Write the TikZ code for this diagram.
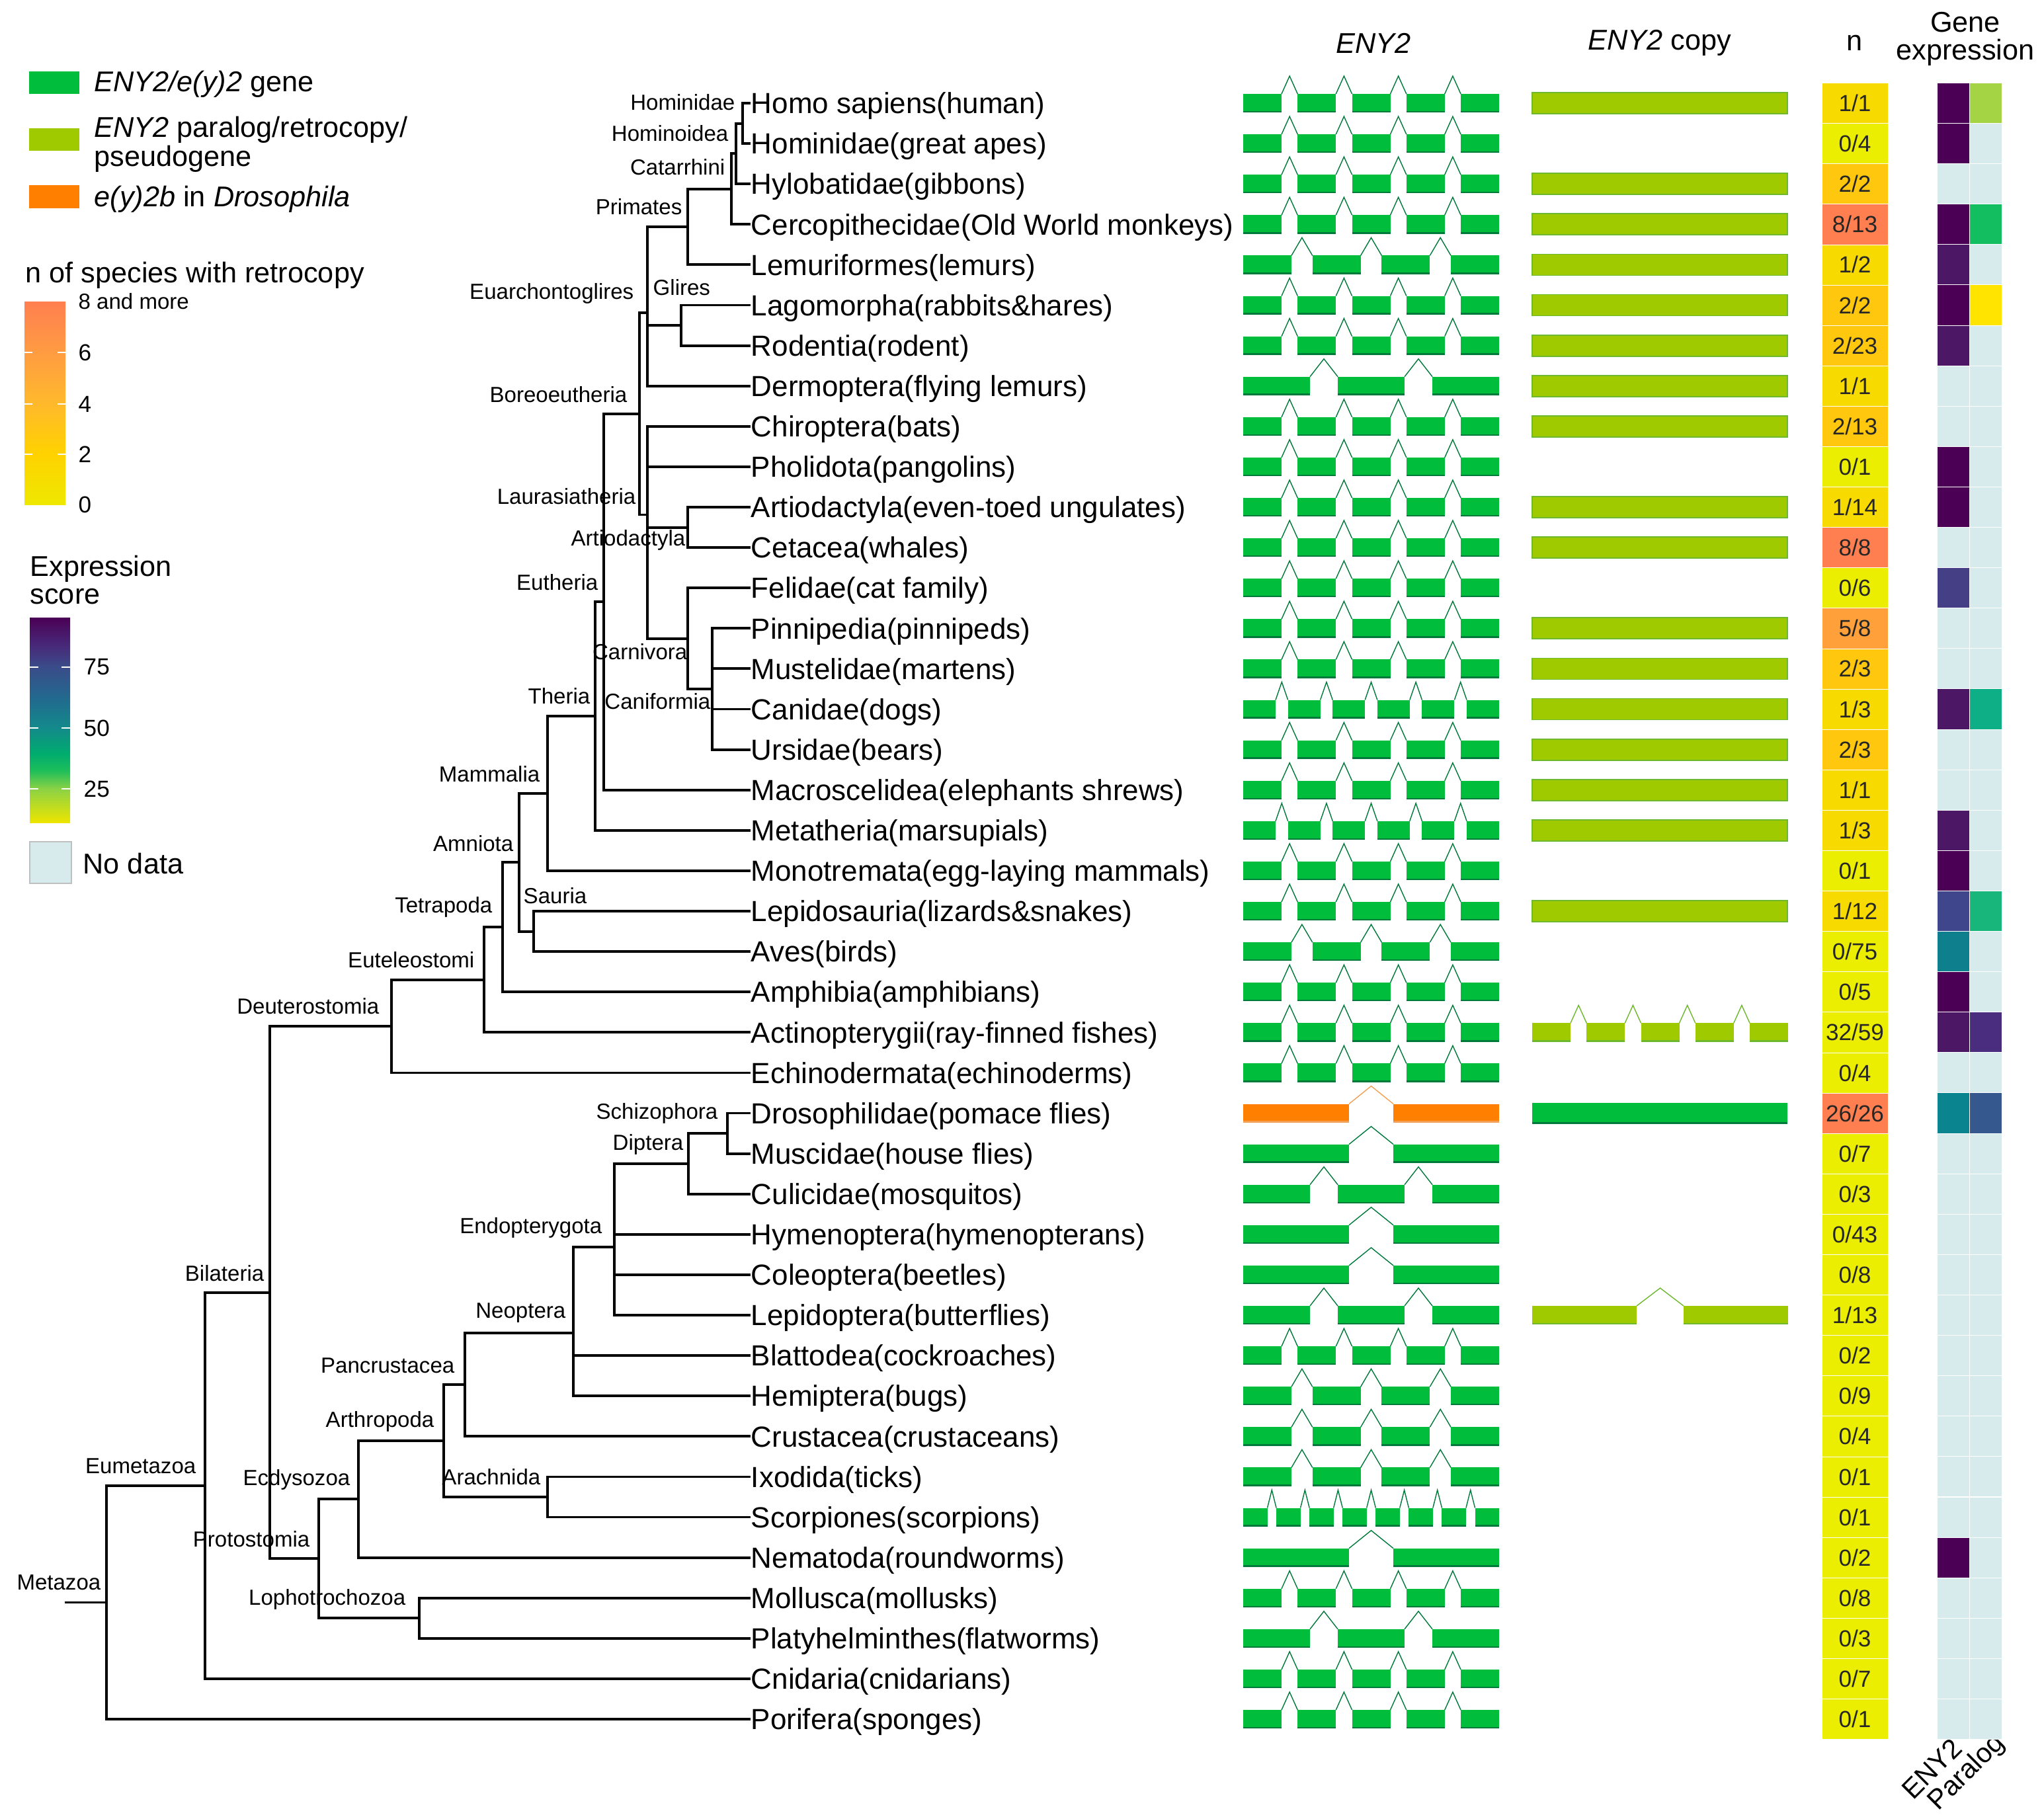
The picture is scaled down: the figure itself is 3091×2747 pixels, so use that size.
\documentclass[tikz,border=0pt]{standalone}
\usepackage{fontspec}
\setmainfont{Liberation Sans}

\definecolor{enygreen}{HTML}{00BE3C}
\definecolor{enyedge}{HTML}{007A3A}
\definecolor{paracol}{HTML}{A0CA00}
\definecolor{paraedge}{HTML}{6DB82E}
\definecolor{orangecol}{HTML}{FF8000}
\definecolor{orangeedge}{HTML}{F2A055}
\definecolor{ny0}{HTML}{EBEE00}
\definecolor{ny1}{HTML}{F7DA00}
\definecolor{ny2}{HTML}{FFC70E}
\definecolor{ny5}{HTML}{FFA03A}
\definecolor{ny8}{HTML}{FF7F50}
\definecolor{nyb0}{HTML}{EEE800}
\definecolor{nyb2}{HTML}{FFD200}
\definecolor{nyb4}{HTML}{FFB92C}
\definecolor{nyb6}{HTML}{FF9C42}
\definecolor{nd}{HTML}{D8EBEC}
\definecolor{v1}{HTML}{4B0055}
\definecolor{v2}{HTML}{4C1866}
\definecolor{bp}{HTML}{453F85}
\definecolor{bp2}{HTML}{3F468C}
\definecolor{tl}{HTML}{0E7F8D}
\definecolor{tl2}{HTML}{0A8590}
\definecolor{pu}{HTML}{4A2D7E}
\definecolor{bl}{HTML}{35588F}
\definecolor{pa}{HTML}{A4D443}
\definecolor{g1}{HTML}{12BE60}
\definecolor{g2}{HTML}{19B67B}
\definecolor{tg}{HTML}{0EAE86}
\definecolor{yy}{HTML}{FFE400}
\definecolor{ex0}{HTML}{EDE500}
\definecolor{ex1}{HTML}{8CD245}
\definecolor{ex2}{HTML}{1DBE5A}
\definecolor{ex3}{HTML}{00AC6E}
\definecolor{ex4}{HTML}{138A8B}
\definecolor{ex5}{HTML}{206C8E}
\definecolor{ex6}{HTML}{3A4C8A}
\definecolor{ex7}{HTML}{482878}
\definecolor{ex8}{HTML}{4A0055}

\pgfdeclareverticalshading{nbar}{100bp}{color(0bp)=(nyb0); color(25bp)=(nyb0); color(37.5bp)=(nyb2); color(50bp)=(nyb4); color(62.5bp)=(nyb6); color(75bp)=(ny8); color(100bp)=(ny8)}
\pgfdeclareverticalshading{exprbar}{100bp}{color(0bp)=(ex0); color(25bp)=(ex0); color(33.2bp)=(ex1); color(37.7bp)=(ex2); color(41.8bp)=(ex3); color(48.1bp)=(ex4); color(54.7bp)=(ex5); color(62.9bp)=(ex6); color(68.4bp)=(ex7); color(75bp)=(ex8); color(100bp)=(ex8)}

\newcommand{\genemodel}[6]{%
  \pgfmathsetmacro{\gp}{(387-#2*#3)/(#2-1)}%
  \foreach \k in {1,...,#2}{%
    \pgfmathsetmacro{\xa}{#4+(\k-1)*(#3+\gp)}%
    \fill[#5] (\xa,#1-14) rectangle ++(#3,28);
    \draw[#6, line width=0.7pt] (\xa,#1+13) -- ++(#3,0);
    \ifnum\k<#2
      \draw[#6, line width=0.4pt] (\xa+#3,#1-14) -- ++(\gp/2,-27) -- ++(\gp/2,27);
    \fi
  }}

\begin{document}
\begin{tikzpicture}[x=0.01cm, y=-0.01cm,
  branch/.style={line width=1.1pt, line cap=rect},
  tip/.style={anchor=west, inner sep=0pt, inner xsep=0.6pt, text height=8.95pt, text depth=0pt, font=\fontsize{12.5}{14}\selectfont},
  clade/.style={anchor=east, inner sep=0pt, font=\fontsize{9.4}{11}\selectfont},
  head/.style={inner sep=0pt, font=\fontsize{12.3}{12}\selectfont, align=center},
  legtext/.style={anchor=west, inner sep=0pt, font=\fontsize{12.3}{12}\selectfont, align=left},
  ticklab/.style={anchor=west, inner sep=0pt, font=\fontsize{10}{11}\selectfont},
  ncell/.style={minimum width=1cm, minimum height=0.611cm, inner sep=0pt, draw=white, line width=0.2pt, font=\fontsize{10}{11}\selectfont, text=black!85},
  ecell/.style={minimum width=0.49cm, minimum height=0.611cm, inner sep=0pt, draw=white, line width=0.3pt},
  parabar/.style={fill=paracol, draw=paraedge, line width=0.5pt},
  tick/.style={white, line width=0.6pt}]

\useasboundingbox (0,0) rectangle (3091,2747);

% legend
\fill[enygreen] (44,108) rectangle (120,142);
\node[legtext] (legeny) at (142,127) {\textit{ENY2/e(y)2} gene};
\fill[paracol] (44,194) rectangle (120,228);
\node[legtext, font=\fontsize{12.3}{9.8}\selectfont] (legpara) at (142,218) {\textit{ENY2} paralog/retrocopy/\\pseudogene};
\fill[orangecol] (44,280) rectangle (120,315);
\node[legtext] (legdros) at (142,301) {\textit{e(y)2b} in \textit{Drosophila}};

\node[legtext] (ntitle) at (38,416) {n of species with retrocopy};
\shade[shading=nbar] (37,456) rectangle (99,763);
\foreach \ty in {533,611,687}
  \draw[tick] (37,\ty) -- (49,\ty) (87,\ty) -- (99,\ty);
\node[ticklab, font=\fontsize{9.4}{11}\selectfont] (nmax) at (118,456) {8 and more};
\foreach \ty/\lab in {533/6,611/4,687/2,763/0}
  \node[ticklab] (nt\lab) at (118,\ty) {\lab};

\node[legtext] (exptitle) at (45,877) {Expression\\score};
\shade[shading=exprbar] (45,934) rectangle (106,1244);
\foreach \ty/\lab in {1009/75,1101/50,1193/25}{
  \draw[tick] (45,\ty) -- (58,\ty) (93,\ty) -- (106,\ty);
  \node[ticklab] (et\lab) at (126,\ty) {\lab};
}
\filldraw[fill=nd, draw=black!25] (45,1273) rectangle (108,1336);
\node[legtext] (nodata) at (125,1306) {No data};

% headers
\node[head] (heny) at (2077,65) {\textit{ENY2}};
\node[head] (hcopy) at (2510,65) {\textit{ENY2} copy};
\node[head] (hn) at (2804,65) {n};
\node[head] (hexpr) at (2972,59) {Gene\\expression};
\node[head, font=\fontsize{11.8}{12}\selectfont, rotate=45, anchor=east] (xeny) at (2960,2636) {ENY2};
\node[head, font=\fontsize{11.8}{12}\selectfont, rotate=45, anchor=east] (xpara) at (3026,2630) {Paralog};

% tips
\foreach \i/\txt in {0/Homo sapiens(human), 1/Hominidae(great apes), 2/Hylobatidae(gibbons),
  3/Cercopithecidae(Old World monkeys), 4/Lemuriformes(lemurs), 5/Lagomorpha(rabbits\&hares),
  6/Rodentia(rodent), 7/Dermoptera(flying lemurs), 8/Chiroptera(bats), 9/Pholidota(pangolins),
  10/Artiodactyla(even-toed ungulates), 11/Cetacea(whales), 12/Felidae(cat family),
  13/Pinnipedia(pinnipeds), 14/Mustelidae(martens), 15/Canidae(dogs), 16/Ursidae(bears),
  17/Macroscelidea(elephants shrews), 18/Metatheria(marsupials), 19/Monotremata(egg-laying mammals),
  20/Lepidosauria(lizards\&snakes), 21/Aves(birds), 22/Amphibia(amphibians),
  23/Actinopterygii(ray-finned fishes), 24/Echinodermata(echinoderms), 25/Drosophilidae(pomace flies),
  26/Muscidae(house flies), 27/Culicidae(mosquitos), 28/Hymenoptera(hymenopterans),
  29/Coleoptera(beetles), 30/Lepidoptera(butterflies), 31/Blattodea(cockroaches),
  32/Hemiptera(bugs), 33/Crustacea(crustaceans), 34/Ixodida(ticks), 35/Scorpiones(scorpions),
  36/Nematoda(roundworms), 37/Mollusca(mollusks), 38/Platyhelminthes(flatworms),
  39/Cnidaria(cnidarians), 40/Porifera(sponges)}{
  \pgfmathsetmacro{\y}{156+61.1*\i}
  \node[tip] (t\i) at (1133,\y) {\txt};
}

% inner nodes
\coordinate (hominidae) at (1123,186.6);
\coordinate (hominoidea) at (1113,232.4);
\coordinate (catarrhini) at (1106,285.9);
\coordinate (primates) at (1040,343.2);
\coordinate (glires) at (1030,492.1);
\coordinate (euarch) at (979,473.0);
\coordinate (artio) at (1040,797.6);
\coordinate (canif) at (1077,1042.0);
\coordinate (carniv) at (1040,965.6);
\coordinate (laurasia) at (979,778.5);
\coordinate (boreo) at (967,625.8);
\coordinate (eutheria) at (913,910.3);
\coordinate (theria) at (900,1083.0);
\coordinate (mammalia) at (828,1200.0);
\coordinate (sauria) at (807,1408.6);
\coordinate (amniota) at (785,1304.3);
\coordinate (tetrapoda) at (760,1402.3);
\coordinate (euteleo) at (732,1481.8);
\coordinate (deutero) at (592,1552.1);
\coordinate (schizo) at (1100,1714.1);
\coordinate (diptera) at (1041,1759.9);
\coordinate (endopt) at (929,1885.9);
\coordinate (neoptera) at (867,2015.7);
\coordinate (pancrust) at (703,2094.0);
\coordinate (arachnida) at (828,2264.0);
\coordinate (arthropoda) at (671,2179.0);
\coordinate (ecdyso) at (542,2267.3);
\coordinate (lophotroch) at (634,2447.3);
\coordinate (protostomia) at (482,2357.3);
\coordinate (bilateria) at (408,1954.7);
\coordinate (eumetazoa) at (310,2246.8);
\coordinate (metazoa) at (161,2423.4);
\coordinate (root) at (100,2423.4);

\foreach \p/\ch in {hominidae/t0.west, hominidae/t1.west, hominoidea/hominidae, hominoidea/t2.west,
  catarrhini/hominoidea, catarrhini/t3.west, primates/catarrhini, primates/t4.west,
  glires/t5.west, glires/t6.west, euarch/primates, euarch/glires, euarch/t7.west,
  laurasia/t8.west, laurasia/t9.west, laurasia/artio, laurasia/carniv,
  artio/t10.west, artio/t11.west, carniv/t12.west, carniv/canif,
  canif/t13.west, canif/t14.west, canif/t15.west, canif/t16.west,
  boreo/euarch, boreo/laurasia, eutheria/boreo, eutheria/t17.west,
  theria/eutheria, theria/t18.west, mammalia/theria, mammalia/t19.west,
  sauria/t20.west, sauria/t21.west, amniota/mammalia, amniota/sauria,
  tetrapoda/amniota, tetrapoda/t22.west, euteleo/tetrapoda, euteleo/t23.west,
  deutero/euteleo, deutero/t24.west, schizo/t25.west, schizo/t26.west,
  diptera/schizo, diptera/t27.west, endopt/diptera, endopt/t28.west, endopt/t29.west, endopt/t30.west,
  neoptera/endopt, neoptera/t31.west, neoptera/t32.west, pancrust/neoptera, pancrust/t33.west,
  arachnida/t34.west, arachnida/t35.west, arthropoda/pancrust, arthropoda/arachnida,
  ecdyso/arthropoda, ecdyso/t36.west, lophotroch/t37.west, lophotroch/t38.west,
  protostomia/ecdyso, protostomia/lophotroch, bilateria/deutero, bilateria/protostomia,
  eumetazoa/bilateria, eumetazoa/t39.west, metazoa/eumetazoa, metazoa/t40.west, root/metazoa}
  \draw[branch] (\p) |- (\ch);

% clade names
\foreach \x/\yy/\name in {1112/155/Hominidae, 1102/202/Hominoidea, 1097/253/Catarrhini,
  1032/313/Primates, 959/444/Euarchontoglires, 949/597/Boreoeutheria, 962/751/Laurasiatheria,
  1037/817/Artiodactyla, 905/881/Eutheria, 1040/986/Carnivora, 893/1053/Theria,
  1075/1061/Caniformia, 817/1171/Mammalia, 777/1276/Amniota, 745/1372/Tetrapoda,
  718/1452/Euteleostomi, 574/1522/Deuterostomia, 1086/1684/Schizophora, 1034/1731/Diptera,
  911/1857/Endopterygota, 856/1986/Neoptera, 688/2065/Pancrustacea, 657/2150/Arthropoda,
  818/2234/Arachnida, 400/1926/Bilateria, 297/2217/Eumetazoa, 530/2238/Ecdysozoa,
  469/2328/Protostomia, 153/2393/Metazoa, 614/2419/Lophotrochozoa}
  \node[clade] (c\name) at (\x,\yy) {\name};
\node[clade, anchor=west] (cGlires) at (987,435) {Glires};
\node[clade, anchor=west] (cSauria) at (791,1355) {Sauria};

% ENY2 gene models
\foreach \i/\n/\w in {0/5/58,1/5/58,2/5/58,3/5/58,4/4/73,5/5/58,6/5/58,7/3/101,8/5/58,9/5/58,
  10/5/58,11/5/58,12/5/58,13/5/58,14/5/58,15/6/49,16/5/58,17/5/58,18/6/49,19/5/58,20/5/58,
  21/4/73,22/5/58,23/5/58,24/5/58,26/2/160,27/3/101,28/2/160,29/2/160,30/3/101,31/5/58,
  32/4/73,33/4/73,34/4/73,35/8/36.5,36/2/160,37/5/58,38/3/101,39/5/58,40/5/58}{
  \pgfmathsetmacro{\y}{156+61.1*\i}
  \genemodel{\y}{\n}{\w}{1880}{enygreen}{enyedge}
}
\genemodel{1683.5}{2}{160}{1880}{orangecol}{orangeedge}

% ENY2 copies
\foreach \i in {0,2,3,4,5,6,7,8,10,11,13,14,15,16,17,18,20}{
  \pgfmathsetmacro{\y}{156+61.1*\i}
  \draw[parabar] (2317,\y-16) rectangle (2703,\y+16);
}
\genemodel{1561.3}{5}{58}{2317}{paracol}{paraedge}
\genemodel{1989.0}{2}{158}{2317}{paracol}{paraedge}
\fill[enygreen] (2317,1667.5) rectangle (2703,1699.5);
\draw[enyedge, line width=0.7pt] (2317,1698.5) -- (2703,1698.5);

% n column
\foreach \i/\nv/\nc in {0/{1/1}/ny1, 1/{0/4}/ny0, 2/{2/2}/ny2, 3/{8/13}/ny8, 4/{1/2}/ny1,
  5/{2/2}/ny2, 6/{2/23}/ny2, 7/{1/1}/ny1, 8/{2/13}/ny2, 9/{0/1}/ny0, 10/{1/14}/ny1,
  11/{8/8}/ny8, 12/{0/6}/ny0, 13/{5/8}/ny5, 14/{2/3}/ny2, 15/{1/3}/ny1, 16/{2/3}/ny2,
  17/{1/1}/ny1, 18/{1/3}/ny1, 19/{0/1}/ny0, 20/{1/12}/ny1, 21/{0/75}/ny0, 22/{0/5}/ny0,
  23/{32/59}/ny0, 24/{0/4}/ny0, 25/{26/26}/ny8, 26/{0/7}/ny0, 27/{0/3}/ny0, 28/{0/43}/ny0,
  29/{0/8}/ny0, 30/{1/13}/ny0, 31/{0/2}/ny0, 32/{0/9}/ny0, 33/{0/4}/ny0, 34/{0/1}/ny0,
  35/{0/1}/ny0, 36/{0/2}/ny0, 37/{0/8}/ny0, 38/{0/3}/ny0, 39/{0/7}/ny0, 40/{0/1}/ny0}{
  \pgfmathsetmacro{\y}{156+61.1*\i}
  \node[ncell, fill=\nc] (n\i) at (2805,\y) {\nv};
}

% expression columns
\foreach \i/\colA/\colB in {0/v1/pa, 1/v1/nd, 2/nd/nd, 3/v1/g1, 4/v2/nd, 5/v1/yy, 6/v2/nd,
  7/nd/nd, 8/nd/nd, 9/v1/nd, 10/v1/nd, 11/nd/nd, 12/bp/nd, 13/nd/nd, 14/nd/nd, 15/v2/tg,
  16/nd/nd, 17/nd/nd, 18/v2/nd, 19/v1/nd, 20/bp2/g2, 21/tl/nd, 22/v1/nd, 23/v2/pu,
  24/nd/nd, 25/tl2/bl, 26/nd/nd, 27/nd/nd, 28/nd/nd, 29/nd/nd, 30/nd/nd, 31/nd/nd,
  32/nd/nd, 33/nd/nd, 34/nd/nd, 35/nd/nd, 36/v1/nd, 37/nd/nd, 38/nd/nd, 39/nd/nd, 40/nd/nd}{
  \pgfmathsetmacro{\y}{156+61.1*\i}
  \node[ecell, fill=\colA] (ea\i) at (2953.5,\y) {};
  \node[ecell, fill=\colB] (eb\i) at (3002.5,\y) {};
}
\end{tikzpicture}
\end{document}
